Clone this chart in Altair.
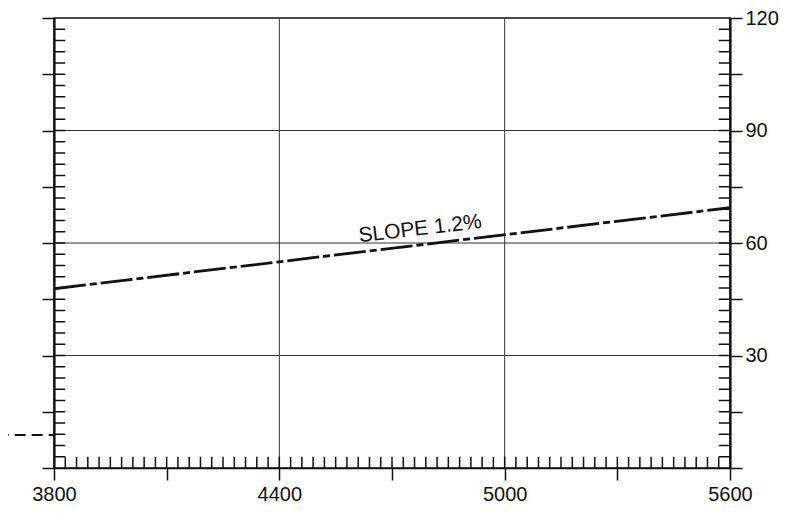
import altair as alt
import pandas as pd

# ---- data ----
x_domain = [3800, 5600]
y_domain = [0, 120]
x_major_ticks = list(range(3800, 5601, 300))
x_minor_ticks = list(range(3830, 5600, 30))
y_major_ticks = list(range(0, 121, 15))
y_minor_ticks = list(range(3, 120, 3))
x_grid = [4400, 5000]
y_grid = [30, 60, 90]

slope_x = [3800, 5600]
slope_y = [47.8, 69.4]
ground_x = [3650, 3800]
ground_y = [8.8, 8.8]
label_x = [4775]
label_y = [63.7]
label_text = ["SLOPE 1.2%"]

FONT = "Liberation Sans Narrow, Liberation Sans, Arial, sans-serif"
INK = "#111111"

xs = alt.Scale(domain=x_domain, nice=False, zero=False)
ys = alt.Scale(domain=y_domain, nice=False, zero=False)

xaxis = alt.Axis(
    values=x_major_ticks,
    labelExpr="(datum.value - 3800) % 600 == 0 ? datum.label : ''",
    format="d", title=None, grid=False,
    tickSize=12, tickColor=INK, tickWidth=1.5,
    domain=True, domainColor=INK, domainWidth=1.5,
    labelFont=FONT, labelFontSize=20, labelColor=INK,
    labelPadding=4, labelFlush=False, labelOverlap=False,
)
yaxis_left = alt.Axis(
    values=y_major_ticks, labels=False, title=None, grid=False, orient="left",
    tickSize=12, tickColor=INK, tickWidth=1.5,
    domain=True, domainColor=INK, domainWidth=2.2,
)
yaxis_right = alt.Axis(
    values=y_major_ticks, title=None, grid=False, orient="right",
    labelExpr="datum.value % 30 == 0 && datum.value > 0 ? datum.label : ''",
    tickSize=12, tickColor=INK, tickWidth=1.5,
    domain=True, domainColor=INK, domainWidth=2.2,
    labelFont=FONT, labelFontSize=20, labelColor=INK,
    labelPadding=3, labelOverlap=False, labelFlush=False,
)

X = alt.X("x:Q", scale=xs, axis=xaxis)
YL = alt.Y("y:Q", scale=ys, axis=yaxis_left)
YR = alt.Y("y:Q", scale=ys, axis=yaxis_right)

grid_v = alt.Chart(pd.DataFrame({"x": x_grid})).mark_rule(
    color="#333333", strokeWidth=1).encode(x=X)
grid_h = alt.Chart(pd.DataFrame({"y": y_grid})).mark_rule(
    color="#333333", strokeWidth=1).encode(y=YL)

bottom_minor = alt.Chart(pd.DataFrame({"x": x_minor_ticks, "y": 0, "y2": 3})).mark_rule(
    color=INK, strokeWidth=1.5).encode(x=X, y=YL, y2="y2:Q")
left_minor = alt.Chart(pd.DataFrame({"y": y_minor_ticks, "x": 3800, "x2": 3830})).mark_rule(
    color=INK, strokeWidth=1.5).encode(x=X, x2="x2:Q", y=YL)

ground = alt.Chart(pd.DataFrame({"x": ground_x, "y": ground_y})).mark_line(
    color=INK, strokeWidth=2.2, strokeDash=[11, 6]).encode(x=X, y=YL)
slope = alt.Chart(pd.DataFrame({"x": slope_x, "y": slope_y})).mark_line(
    color=INK, strokeWidth=2.8, strokeDash=[32, 4, 7, 4]).encode(x=X, y=YL)
label = alt.Chart(pd.DataFrame({"x": label_x, "y": label_y, "t": label_text})).mark_text(
    font="Liberation Sans, Arial, sans-serif", fontSize=21, color=INK,
    angle=353.25, align="center", baseline="middle").encode(x=X, y=YL, text="t:N")

left_part = alt.layer(grid_v, grid_h, bottom_minor, left_minor, ground, slope, label)

right_minor = alt.Chart(pd.DataFrame({"y": y_minor_ticks, "x": 5570, "x2": 5600})).mark_rule(
    color=INK, strokeWidth=1.5).encode(x=X, x2="x2:Q", y=YR)

chart = alt.layer(left_part, right_minor).resolve_scale(y="independent").properties(
    width=676, height=450,
    autosize=alt.AutoSizeParams(type="none"),
    padding={"left": 46, "top": 10, "right": 49, "bottom": 40},
    background="white",
).configure_view(stroke=INK, strokeWidth=1.5)

chart.save("out.html", embed_options={"renderer": "svg", "actions": False})
